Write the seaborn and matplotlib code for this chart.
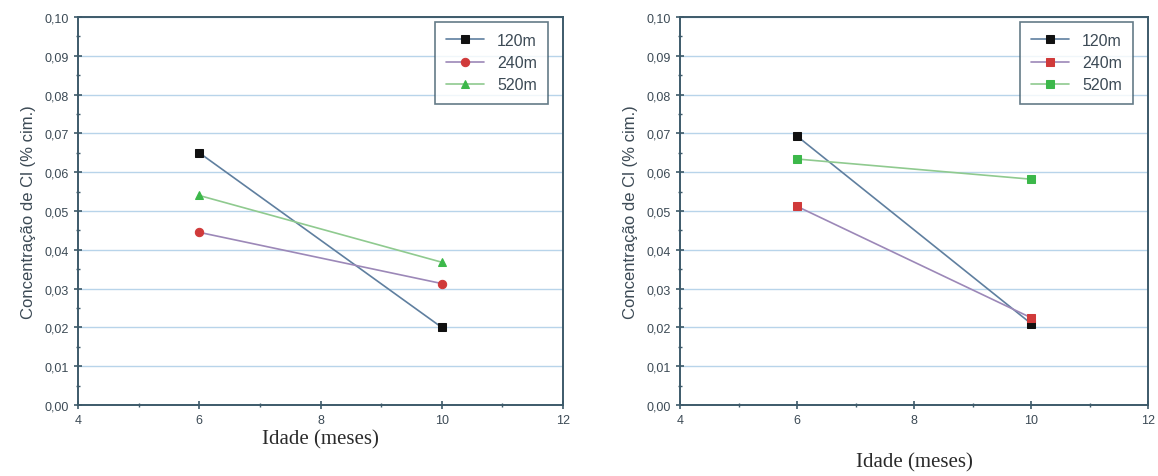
import matplotlib
matplotlib.use("Agg")
import matplotlib.pyplot as plt
import seaborn as sns
import pandas as pd
from matplotlib.ticker import FuncFormatter, MultipleLocator

# Data
ages = [6, 10]
series = ["120m", "240m", "520m"]
left_120 = [0.0650, 0.0200]
left_240 = [0.0445, 0.0313]
left_520 = [0.0540, 0.0368]
right_120 = [0.0693, 0.0210]
right_240 = [0.0512, 0.0225]
right_520 = [0.0634, 0.0582]
xlabel = "Idade (meses)"
ylabel = "Concentração de Cl (% cim.)"

sns.set_theme(style="white")
plt.rcParams['font.family'] = ['Liberation Sans', 'DejaVu Sans']

marker_colors = ["#111111", "#d03a3a", "#3cb84a"]
line_colors = ["#5f7f9f", "#9c88b8", "#8fca8f"]
spine_c = "#3d5a6a"
text_c = "#3c4a55"
grid_c = "#b8d4ea"

W, H = 1158, 477
fig = plt.figure(figsize=(W / 100, H / 100), dpi=100)

panels = [
    dict(rect=[78 / W, (H - 406) / H, (563 - 78) / W, 388 / H],
         data=[left_120, left_240, left_520], markers=["s", "o", "^"],
         xlab_y=440),
    dict(rect=[680 / W, (H - 406) / H, (1148 - 680) / W, 388 / H],
         data=[right_120, right_240, right_520], markers=["s", "s", "s"],
         xlab_y=463),
]

fmt = FuncFormatter(lambda v, p: f"{v:.2f}".replace(".", ","))

for pn in panels:
    ax = fig.add_axes(pn["rect"])
    for name, vals, mk, mc, lc in zip(series, pn["data"], pn["markers"], marker_colors, line_colors):
        df = pd.DataFrame({"x": ages, "y": vals})
        sns.lineplot(data=df, x="x", y="y", ax=ax, color=lc, linewidth=1.2,
                     marker=mk, markersize=6, markerfacecolor=mc,
                     markeredgecolor=mc, label=name, zorder=3)
    ax.set_xlim(4, 12)
    ax.set_ylim(0, 0.10)
    ax.xaxis.set_major_locator(MultipleLocator(2))
    ax.xaxis.set_minor_locator(MultipleLocator(1))
    ax.yaxis.set_major_locator(MultipleLocator(0.01))
    ax.yaxis.set_minor_locator(MultipleLocator(0.005))
    ax.yaxis.set_major_formatter(fmt)
    ax.grid(axis="y", which="major", color=grid_c, linewidth=1.0, zorder=0)
    ax.set_axisbelow(True)
    for s in ax.spines.values():
        s.set_color(spine_c)
        s.set_linewidth(1.4)
    ax.tick_params(axis="both", which="major", direction="inout", length=6,
                   width=1.2, color=spine_c, labelsize=9, labelcolor=text_c,
                   bottom=True, left=True)
    ax.tick_params(axis="both", which="minor", direction="inout", length=3,
                   width=1.0, color=spine_c, bottom=True, left=True)
    ax.set_xlabel("")
    ax.set_ylabel(ylabel, fontsize=12, color=text_c, labelpad=6)
    bx = ax.get_position()
    fig.text(bx.x0 + bx.width / 2, 1 - pn["xlab_y"] / H, xlabel,
             ha="center", va="center", fontsize=15, color="#2a2a2a",
             family=["Liberation Serif", "DejaVu Serif"])
    leg = ax.legend(loc="upper right", frameon=True, fancybox=False,
                    fontsize=11.5, handlelength=2.4, borderpad=0.7,
                    labelspacing=0.45, borderaxespad=0.3,
                    bbox_to_anchor=(1 - 10 / (bx.width * W), 1))
    leg.get_frame().set_edgecolor(spine_c)
    leg.get_frame().set_linewidth(1.2)
    for t in leg.get_texts():
        t.set_color(text_c)

fig.savefig("out.png", dpi=100)
